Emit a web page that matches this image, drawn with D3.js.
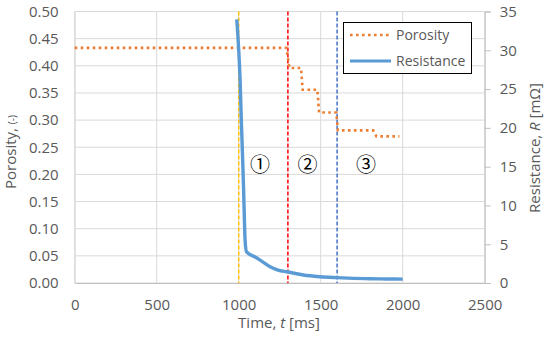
<!DOCTYPE html>
<html><head><meta charset="utf-8">
<script src="https://cdn.jsdelivr.net/npm/d3@7"></script>
<style>body{margin:0;background:#fff}svg{display:block}text{font-family:"Open Sans",sans-serif}</style>
</head><body><svg id="c" width="550" height="344"></svg>
<script>
const xTicks=[0,500,1000,1500,2000,2500];
const yLTicks=[0,0.05,0.10,0.15,0.20,0.25,0.30,0.35,0.40,0.45,0.50];
const yRTicks=[0,5,10,15,20,25,30,35];
const porosityT=[0,1290,1310,1380,1390,1480,1490,1595,1605,1820,1840,1980];
const porosityV=[0.433,0.433,0.396,0.396,0.356,0.356,0.314,0.314,0.281,0.281,0.270,0.270];
const resT=[988,994,1008,1016,1024,1030,1035,1039,1048,1100,1130,1191,1250,1293,1394,1496,1598,1700,1800,1900,2000];
const resV=[34.0,32.2,26.5,21,16,12,8,5.5,4.0,3.35,2.95,2.1,1.6,1.45,1.03,0.81,0.69,0.6,0.55,0.52,0.5];
const markerT=[1000,1300,1600];
const markerColors=["#FFC000","#FF0000","#4472C4"];
const regionLabels=["①","②","③"];
const regionT=[1130,1420,1776];
const regionY=0.218;

const svg=d3.select("#c");
const L=74.7,R=484.7,T=11.5,B=283;
const x=d3.scaleLinear().domain([0,2500]).range([L,R]);
const yL=d3.scaleLinear().domain([0,0.5]).range([B,T]);
const yR=d3.scaleLinear().domain([0,35]).range([B,T]);

// grid
svg.append("g").selectAll("line").data(yLTicks).join("line")
 .attr("x1",L).attr("x2",R).attr("y1",d=>yL(d)).attr("y2",d=>yL(d))
 .attr("stroke","#D9D9D9").attr("stroke-width",1);
svg.append("g").selectAll("line").data(xTicks).join("line")
 .attr("x1",d=>x(d)).attr("x2",d=>x(d)).attr("y1",T).attr("y2",B)
 .attr("stroke","#D9D9D9").attr("stroke-width",1);

// axes
const gx=svg.append("g").attr("transform",`translate(0,${B})`)
 .call(d3.axisBottom(x).tickValues(xTicks).tickSize(0).tickPadding(16).tickFormat(d3.format("d")));
const gl=svg.append("g").attr("transform",`translate(${L},0)`)
 .call(d3.axisLeft(yL).tickValues(yLTicks).tickSize(0).tickPadding(16).tickFormat(d3.format(".2f")));
const gr=svg.append("g").attr("transform",`translate(${R},0)`)
 .call(d3.axisRight(yR).tickValues(yRTicks).tickSize(6).tickPadding(9).tickFormat(d3.format("d")));
[gx,gl,gr].forEach(g=>{
 g.select(".domain").attr("stroke","#BFBFBF").attr("stroke-width",1);
 g.selectAll(".tick line").attr("stroke","#BFBFBF");
 g.selectAll("text").attr("fill","#595959").style("font-size","15px").style("font-family","'Open Sans',sans-serif");
});
gl.select(".domain").attr("stroke","#D9D9D9");

// marker lines
svg.append("g").selectAll("line").data(markerT).join("line")
 .attr("x1",d=>x(d)).attr("x2",d=>x(d)).attr("y1",T).attr("y2",B)
 .attr("stroke",(d,i)=>markerColors[i]).attr("stroke-width",1.5).attr("stroke-dasharray","4,2");

// porosity
const pData=porosityT.map((t,i)=>[t,porosityV[i]]);
svg.append("path").datum(pData)
 .attr("d",d3.line().x(d=>x(d[0])).y(d=>yL(d[1])))
 .attr("fill","none").attr("stroke","#ED7D31").attr("stroke-width",2.6).attr("stroke-dasharray","2.6,3.4");

// resistance
const rData=resT.map((t,i)=>[t,resV[i]]);
svg.append("path").datum(rData)
 .attr("d",d3.line().curve(d3.curveMonotoneX).x(d=>x(d[0])).y(d=>yR(d[1])))
 .attr("fill","none").attr("stroke","#5B9BD5").attr("stroke-width",3.4).attr("stroke-linejoin","round");

// region labels
svg.append("g").selectAll("text").data(regionLabels).join("text")
 .attr("x",(d,i)=>x(regionT[i])).attr("y",yL(regionY)).attr("dy","0.36em")
 .attr("text-anchor","middle").style("font-size","20px").style("font-family","'Noto Sans CJK JP',sans-serif")
 .attr("fill","#000").text(d=>d);

// legend
const lg=svg.append("g");
lg.append("rect").attr("x",343.5).attr("y",22.5).attr("width",128).attr("height",51)
 .attr("fill","#fff").attr("stroke","#000").attr("stroke-width",1);
lg.append("line").attr("x1",350).attr("x2",391).attr("y1",35).attr("y2",35)
 .attr("stroke","#ED7D31").attr("stroke-width",2.6).attr("stroke-dasharray","2.6,3.4");
lg.append("line").attr("x1",350).attr("x2",391).attr("y1",61).attr("y2",61)
 .attr("stroke","#5B9BD5").attr("stroke-width",3);
lg.append("text").attr("x",396).attr("y",35).attr("dy","0.35em").attr("fill","#595959").style("font-size","14px").text("Porosity");
lg.append("text").attr("x",396).attr("y",61).attr("dy","0.35em").attr("fill","#595959").style("font-size","14px").text("Resistance");

// axis titles
const xt=svg.append("text").attr("x",279).attr("y",328).attr("text-anchor","middle").attr("fill","#595959").style("font-size","15px");
xt.append("tspan").text("Time, ");
xt.append("tspan").style("font-style","italic").text("t");
xt.append("tspan").text(" [ms]");

const ylt=svg.append("text").attr("transform","translate(16,152) rotate(-90)").attr("text-anchor","middle").attr("fill","#595959").style("font-size","15px");
ylt.append("tspan").text("Porosity, ");
ylt.append("tspan").style("font-size","10px").text("(-)");

const yrt=svg.append("text").attr("transform","translate(540,148) rotate(-90)").attr("text-anchor","middle").attr("fill","#595959").style("font-size","15px");
yrt.append("tspan").text("Resistance, ");
yrt.append("tspan").style("font-style","italic").text("R");
yrt.append("tspan").text(" [mΩ]");
</script></body></html>
